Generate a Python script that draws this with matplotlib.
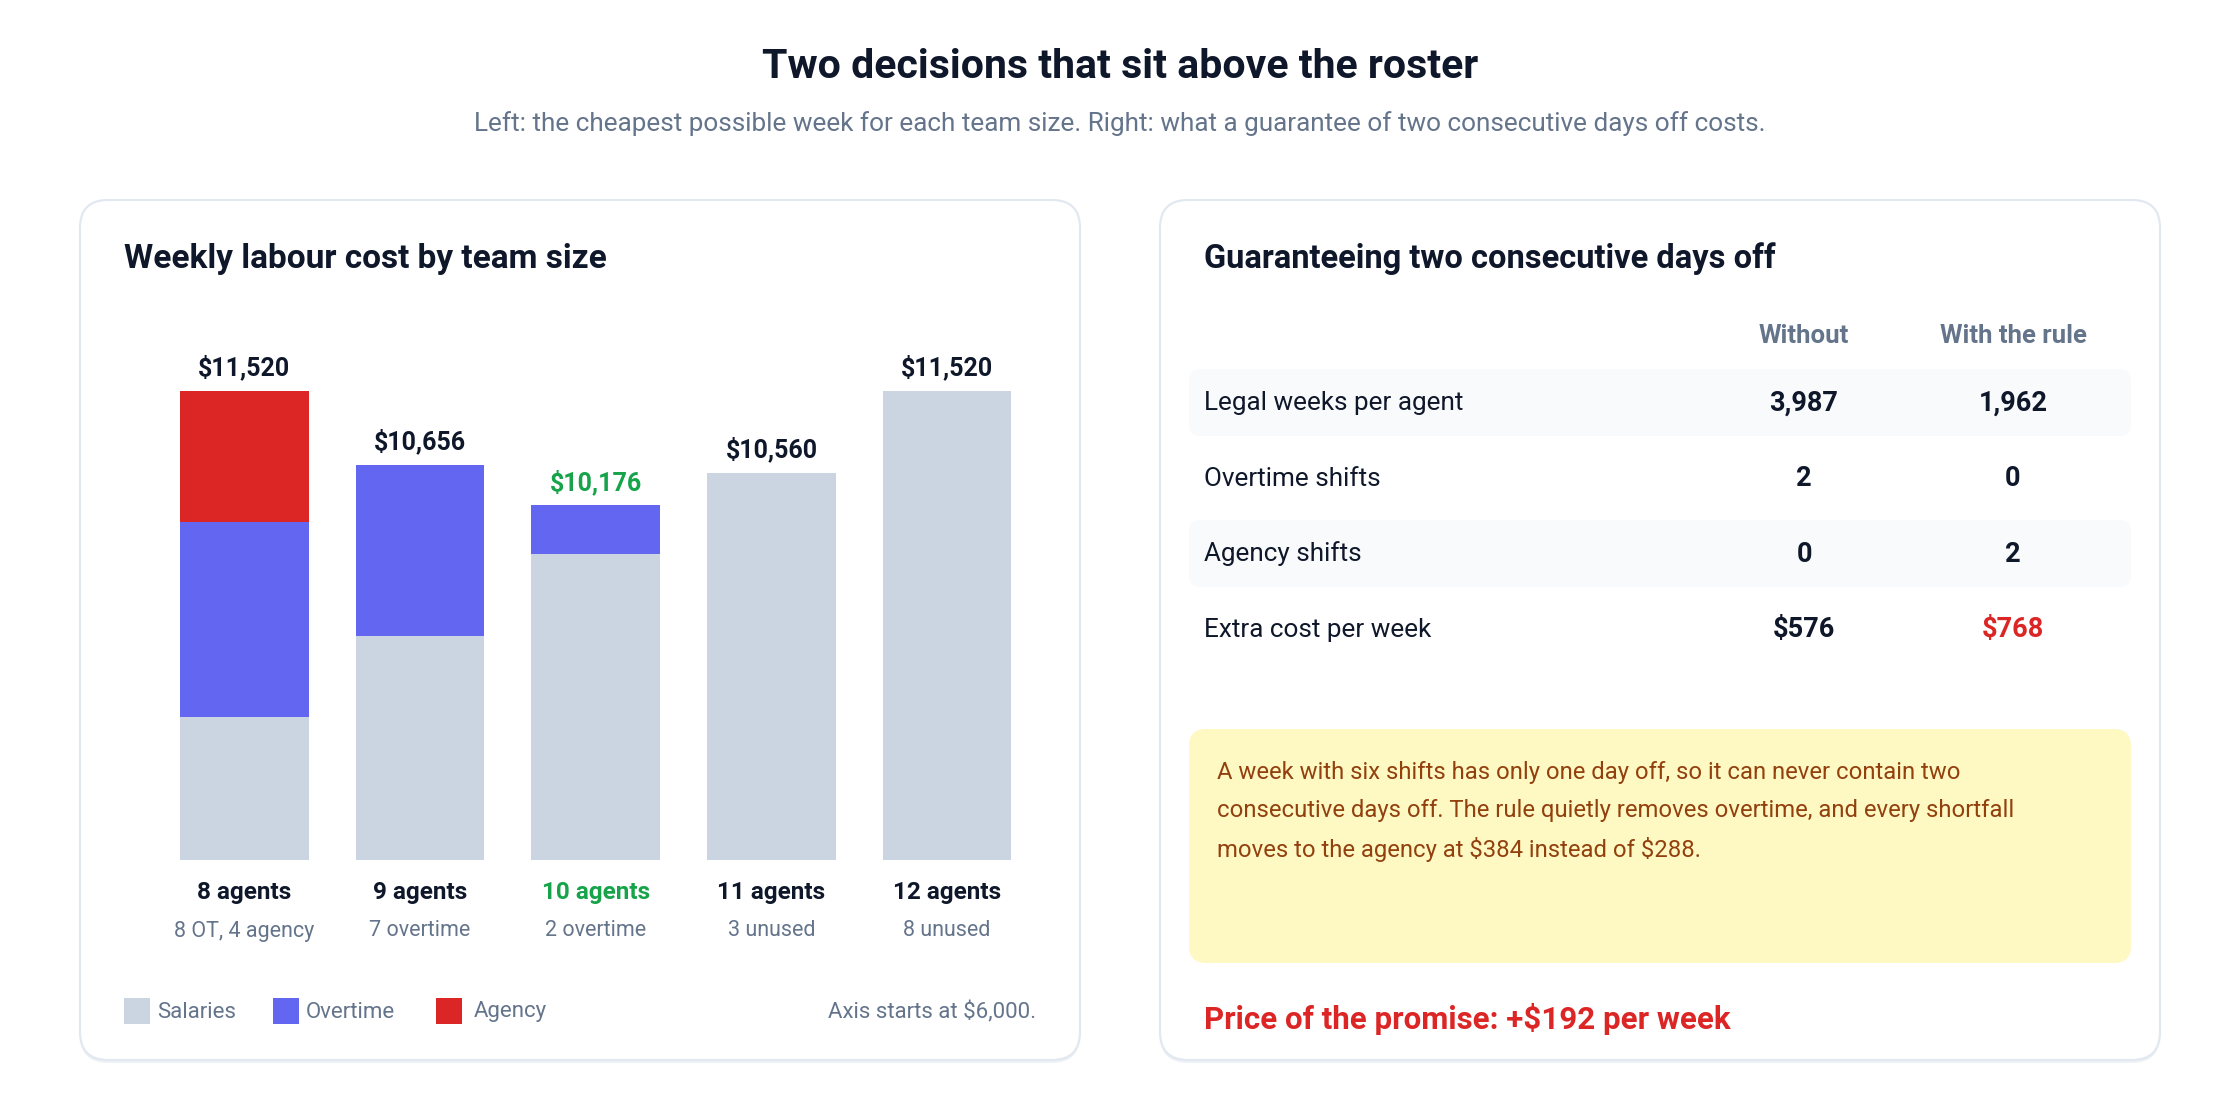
import matplotlib
matplotlib.use("Agg")
import matplotlib.pyplot as plt
import matplotlib.transforms as mtransforms
from matplotlib.patches import FancyBboxPatch, Rectangle
import numpy as np

plt.rcParams['font.family'] = ['Roboto', 'DejaVu Sans']
plt.rcParams['text.parse_math'] = False

# data
team_labels = ["8 agents", "9 agents", "10 agents", "11 agents", "12 agents"]
team_notes = ["8 OT, 4 agency", "7 overtime", "2 overtime", "3 unused", "8 unused"]
salaries = [7680, 8640, 9600, 10560, 11520]
overtime = [2304, 2016, 576, 0, 0]
agency = [1536, 0, 0, 0, 0]
best_idx = 2
axis_min = 6000

table_cols = ["Without", "With the rule"]
row_labels = ["Legal weeks per agent", "Overtime shifts", "Agency shifts", "Extra cost per week"]
without_vals = ["3,987", "2", "0", "$576"]
with_vals = ["1,962", "0", "2", "$768"]

note_lines = [
    "A week with six shifts has only one day off, so it can never contain two",
    "consecutive days off. The rule quietly removes overtime, and every shortfall",
    "moves to the agency at $384 instead of $288.",
]
price_text = "Price of the promise: +$192 per week"

# colours
DARK = "#0f172a"
GRAY = "#64748b"
C_SAL = "#cbd5e1"
C_OT = "#6366f1"
C_AG = "#dc2626"
GREEN = "#16a34a"
RED = "#dc2626"

W, H = 2240, 1120
fig = plt.figure(figsize=(W / 100, H / 100), dpi=100)
fig.patch.set_facecolor("white")

# background layer in pixel coordinates
bg = fig.add_axes([0, 0, 1, 1], zorder=0)
bg.set_xlim(0, W)
bg.set_ylim(H, 0)
bg.axis("off")


def rbox(x0, y0, x1, y1, r, fc, ec="none", lw=0):
    p = FancyBboxPatch((x0, y0), x1 - x0, y1 - y0,
                       boxstyle=f"round,pad=0,rounding_size={r}",
                       fc=fc, ec=ec, lw=lw)
    bg.add_patch(p)
    return p


bg.text(W / 2, 67, "Two decisions that sit above the roster", ha="center", va="center",
        fontsize=29.5, fontweight="bold", color=DARK)
bg.text(W / 2, 124, "Left: the cheapest possible week for each team size. Right: what a guarantee of two consecutive days off costs.",
        ha="center", va="center", fontsize=18.8, color=GRAY)

# cards
for x0 in (80, 1160):
    rbox(x0, 203, x0 + 1000, 1063, 28, "#eef2f6")  # faint shadow
    rbox(x0, 200, x0 + 1000, 1060, 28, "white", ec="#e2e8f0", lw=1.6)

# ---- left card: stacked bars
bg.text(124, 259, "Weekly labour cost by team size", ha="left", va="center",
        fontsize=24, fontweight="bold", color=DARK)

ax = fig.add_axes([156.4 / W, 1 - 860 / H, 878.6 / W, (860 - 391.4) / H], zorder=1)
ax.patch.set_alpha(0)
x = np.arange(len(team_labels))
sal = np.array(salaries)
ot = np.array(overtime)
ag = np.array(agency)
bw = 0.732
ax.bar(x, sal, width=bw, color=C_SAL, label="Salaries")
ax.bar(x, ot, width=bw, bottom=sal, color=C_OT, label="Overtime")
ax.bar(x, ag, width=bw, bottom=sal + ot, color=C_AG, label="Agency")
ax.set_xlim(-0.5, len(x) - 0.5)
ax.set_ylim(axis_min, (sal + ot + ag).max())
ax.axis("off")

totals = sal + ot + ag
for i, t in enumerate(totals):
    col = GREEN if i == best_idx else DARK
    ax.annotate(f"${t:,}", (i, t), xytext=(0, 17), textcoords="offset points",
                ha="center", va="center", fontsize=18, fontweight="bold",
                color=col, annotation_clip=False)

blend = mtransforms.blended_transform_factory(ax.transData, bg.transData)
for i, (lab, note) in enumerate(zip(team_labels, team_notes)):
    col = GREEN if i == best_idx else DARK
    bg.text(i, 893, lab, transform=blend, ha="center", va="center",
            fontsize=17.5, fontweight="bold", color=col)
    bg.text(i, 931, note, transform=blend, ha="center", va="center",
            fontsize=15.5, color=GRAY)

# legend
for sx, tx, c, lab in [(124, 157, C_SAL, "Salaries"), (273, 306, C_OT, "Overtime"),
                       (436, 474, C_AG, "Agency")]:
    bg.add_patch(Rectangle((sx, 998), 26, 26, fc=c, ec="none"))
    bg.text(tx, 1012, lab, ha="left", va="center", fontsize=16, color=GRAY)
bg.text(1036, 1012, f"Axis starts at ${axis_min:,}.", ha="right", va="center",
        fontsize=16, color=GRAY)

# ---- right card: table
bg.text(1204, 259, "Guaranteeing two consecutive days off", ha="left", va="center",
        fontsize=23.5, fontweight="bold", color=DARK)

col_x = [1804, 2013]
for cx, name in zip(col_x, table_cols):
    bg.text(cx, 336, name, ha="center", va="center", fontsize=18.5,
            fontweight="bold", color=GRAY)

row_y = [403, 479, 554, 630]
for k, (lab, a, b) in enumerate(zip(row_labels, without_vals, with_vals)):
    y = row_y[k]
    if k % 2 == 0:
        rbox(1189, y - 34, 2131, y + 33, 11, "#f8fafc")
    bg.text(1204, y, lab, ha="left", va="center", fontsize=18.8, color=DARK)
    bg.text(col_x[0], y, a, ha="center", va="center", fontsize=19.5,
            fontweight="bold", color=DARK)
    colb = RED if k == len(row_labels) - 1 else DARK
    bg.text(col_x[1], y, b, ha="center", va="center", fontsize=19.5,
            fontweight="bold", color=colb)

# note box
rbox(1189, 729, 2131, 963, 17, "#fef9c3")
for j, line in enumerate(note_lines):
    bg.text(1217, 772 + j * 39, line, ha="left", va="center", fontsize=17.2,
            color="#92400e")

bg.text(1204, 1019, price_text, ha="left", va="center", fontsize=22.5,
        fontweight="bold", color=RED)

fig.savefig("out.png", dpi=100, facecolor="white")
